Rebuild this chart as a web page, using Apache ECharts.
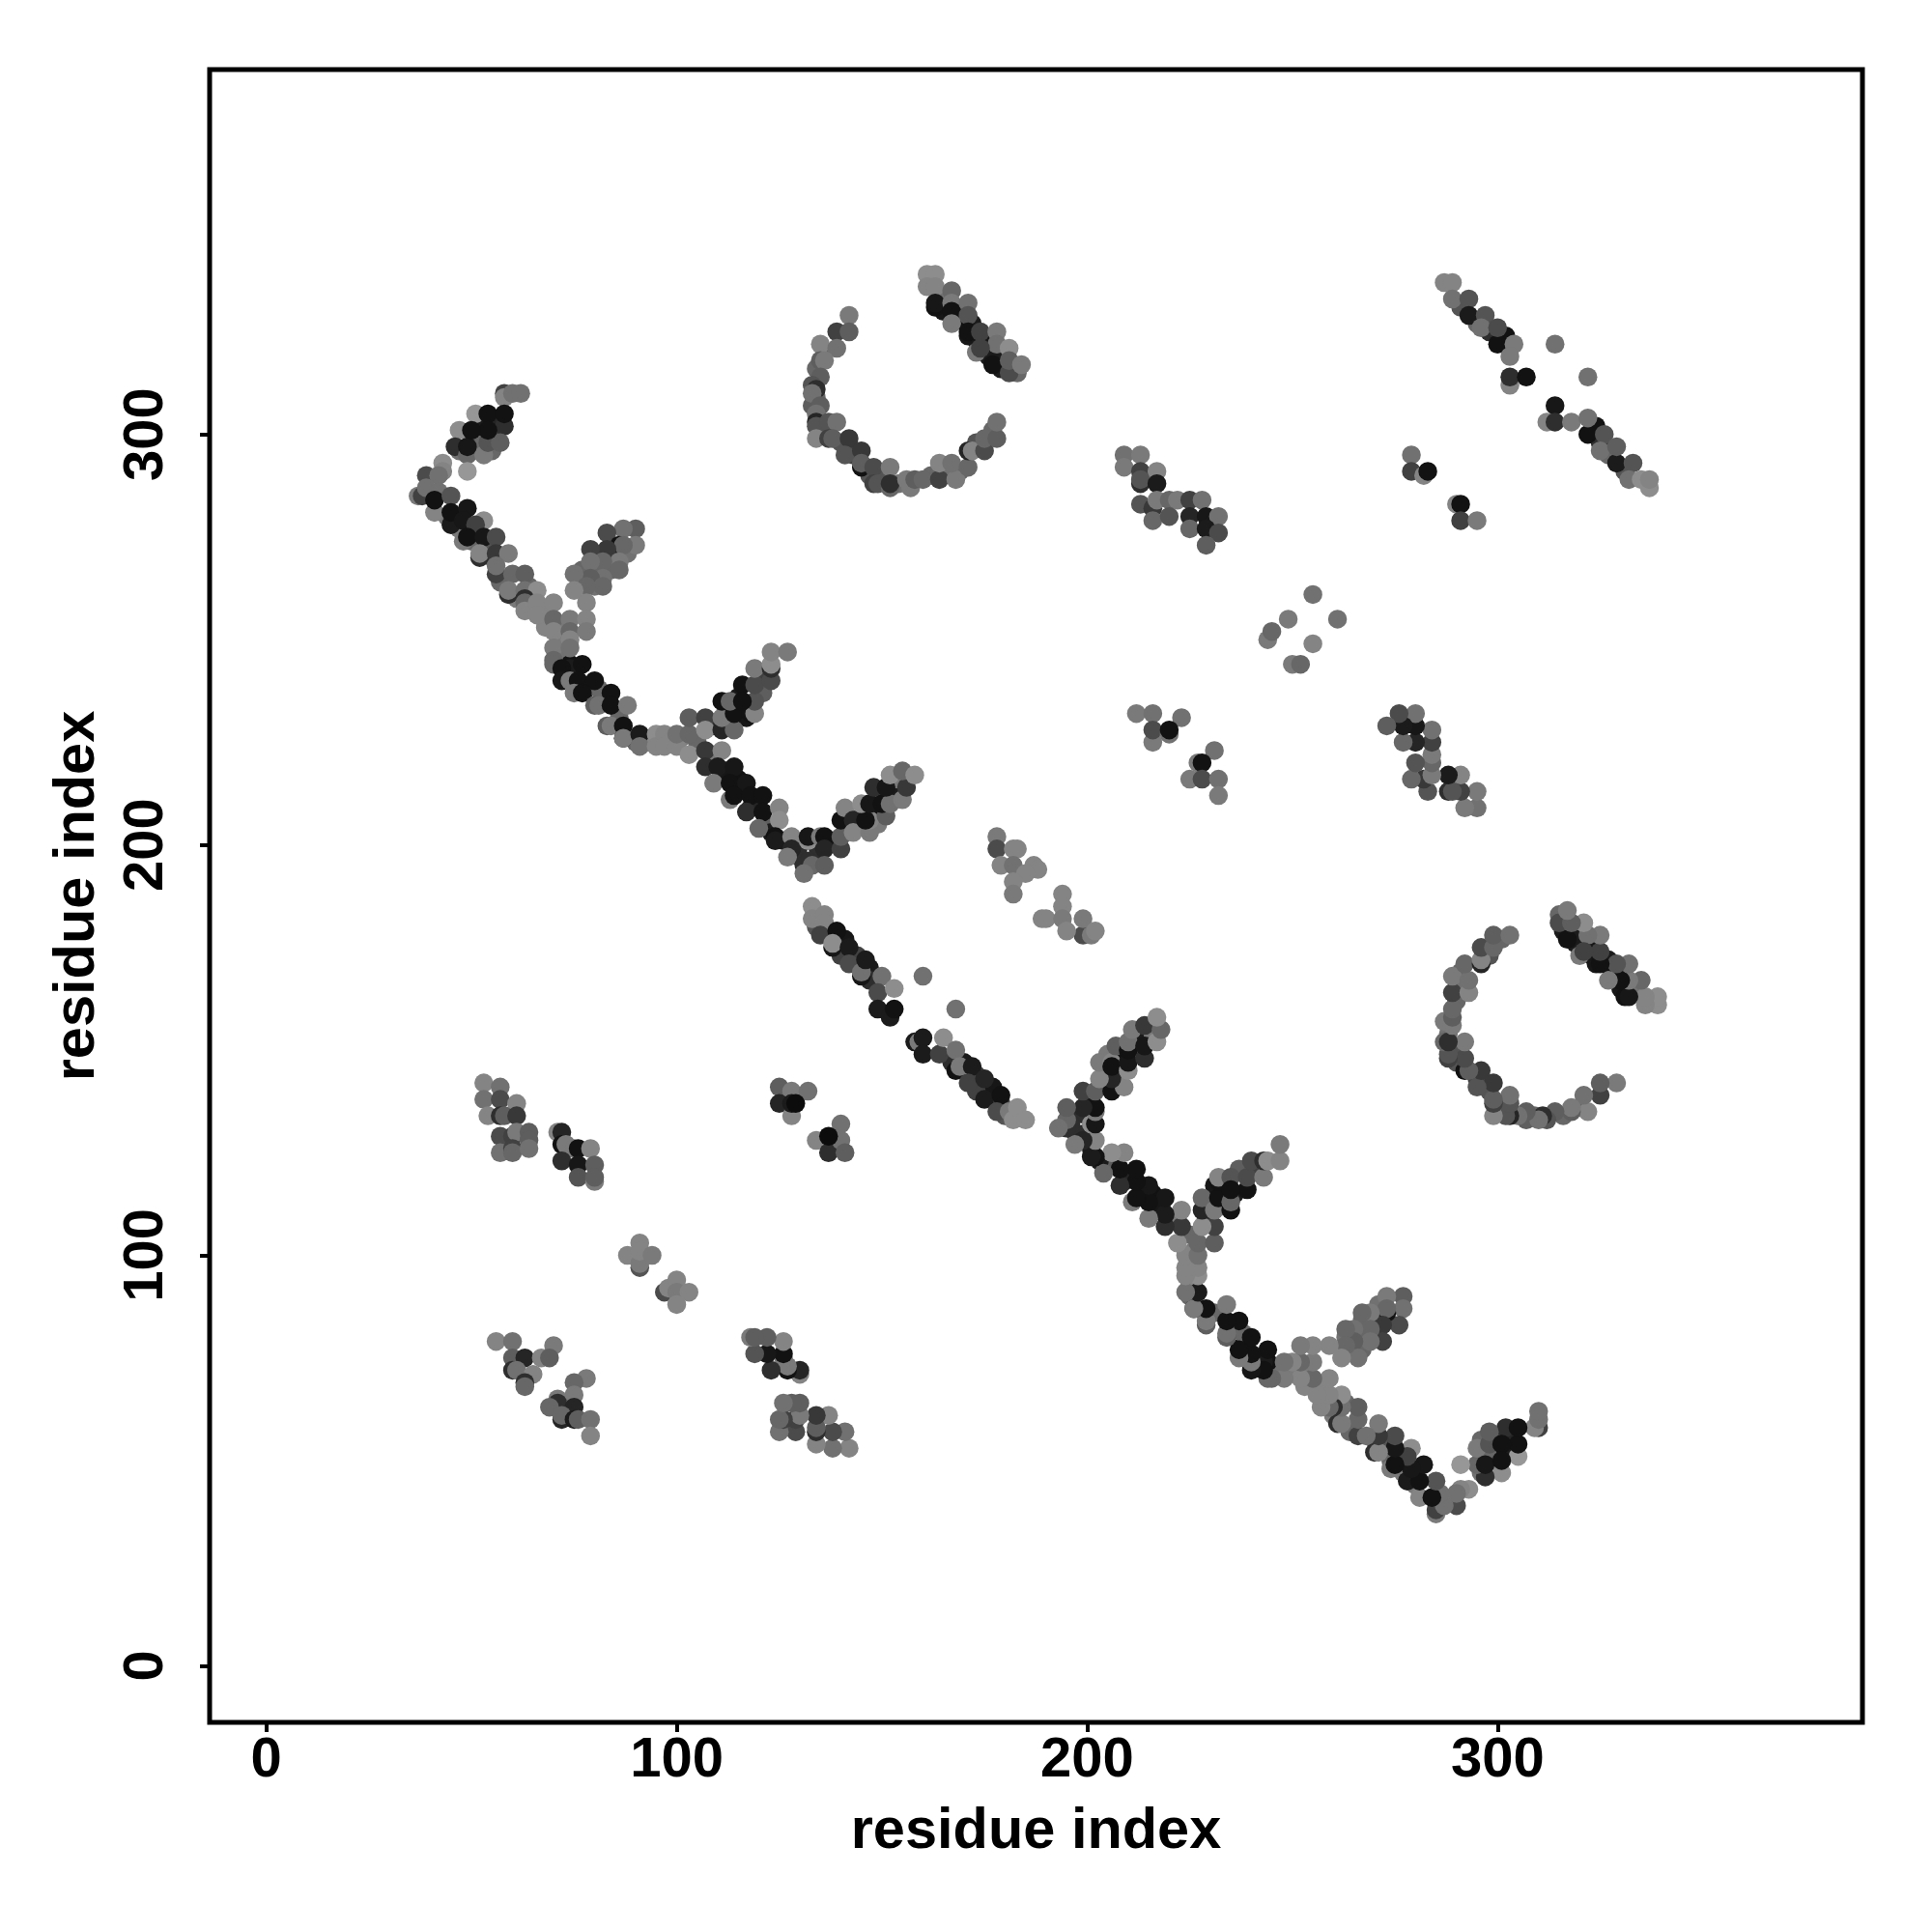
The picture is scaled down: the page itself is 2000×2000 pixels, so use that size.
<!DOCTYPE html>
<html><head><meta charset="utf-8">
<style>html,body{margin:0;background:#fff}#c{width:2000px;height:2000px}</style>
<script src="https://cdn.jsdelivr.net/npm/echarts@6/dist/echarts.min.js"></script>
</head><body><div id="c"></div>
<script>
// contacts: [residue i, residue j, shade 0(black)..0.7(grey)]
// Less visible contacts, mostly covered by the ones drawn after them
const underOne=[[52,299,.5],[47,296,.55],[55,296,.5],[52,296,.4],[56,300,.3],[56,303,.15],[52,302,.1],[44,280,.6],[47,277,.6],[50,274,.5],[54,273,.4],[55,270,.5],[57,264,.5],[61,260,.6],[64,263,.5],[68,257,.65],[72,250,.6],[71,247,.5],[73,246,.55],[72,253,.6],[68,253,.65],[65,258,.6],[84,270,.55],[81,267,.5],[77,267,.5],[80,263,.55],[88,271,.55],[84,267,.5],[80,270,.5],[74,244,.05],[74,243,.1],[78,238,.05],[82,237,.08],[81,238,.5],[86,231,.5],[90,225,.5],[92,226,.1],[98,226,.65],[101,226,.6],[105,225,.5],[93,225,.65],[109,229,.2],[112,233,.5],[115,236,.1],[117,233,.05],[121,237,.45],[121,241,.3],[117,231,.08],[109,222,.6],[112,218,.08],[115,216,.05],[115,213,.05],[119,210,.1],[118,209,.15],[122,205,.45],[123,203,.1],[126,201,.1],[130,200,.1],[134,200,.15],[138,201,.08],[130,197,.2],[134,197,.2],[132,196,.2],[142,204,.5],[145,207,.4],[149,208,.05],[149,205,.6],[153,212,.1],[153,215,.1],[150,212,.4],[154,216,.6],[136,320,.5],[134,316,.5],[134,309,.5],[133,307,.45],[135,301,.4],[140,298,.4],[143,295,.3],[147,290,.4],[150,290,.4],[154,288,.55],[162,290,.5],[166,291,.55],[169,291,.5],[173,298,.4],[177,301,.5],[165,334,.55],[165,330,.08],[169,328,.05],[169,330,.1],[172,327,.1],[173,323,.05],[176,322,.08],[176,319,.1],[179,316,.1],[179,319,.1],[183,315,.5]];
const underTwo=[[134,180,.4],[137,179,.3],[141,177,.08],[140,173,.3],[144,173,.3],[147,170,.1],[147,167,.2],[180,134,.4],[179,137,.3],[177,141,.08],[173,140,.3],[173,144,.3],[170,147,.1],[167,147,.2],[291,331,.4],[295,327,.5],[298,325,.2],[302,324,.05],[331,291,.4],[327,295,.5],[325,298,.2],[324,302,.05]];
// Clusters whose partner appears across the i=j line
const armTop=[[58,310,.3],[58,309,.65],[60,310,.55],[62,310,.55],[51,305,.75],[58,302,.2],[47,301,.7],[46,297,.2],[50,297,.5],[49,295,.5],[53,295,.6],[49,291,.75],[54,298,.4],[57,298,.45],[49,297,.08],[54,305,.05],[58,305,.05],[54,301,.05],[50,301,.05]];
const strandA=[[43,293,.7],[43,291,.65],[39,290,.35],[42,290,.55],[37,285,.6],[38,285,.3],[39,287,.55],[42,286,.55],[41,281,.65],[41,284,.05],[45,285,.4],[45,278,.1],[45,281,.05],[49,282,.08],[48,279,.08],[53,279,.7],[51,278,.3],[48,274,.6],[49,275,.05],[53,275,.08],[56,275,.35],[52,270,.2],[52,271,.65],[56,271,.25],[59,271,.6],[56,266,.3],[56,268,.55],[60,266,.5],[63,266,.45],[59,261,.2],[59,262,.6],[63,262,.55],[66,262,.7],[63,260,.2],[63,259,.5],[63,257,.65],[66,259,.65],[70,259,.65],[66,256,.65],[70,255,.5],[70,252,.65],[74,255,.6],[74,252,.5],[74,250,.65],[70,248,.6],[74,248,.55],[70,245,.5],[70,244,.5]];
const armC=[[90,277,.45],[87,277,.55],[90,273,.6],[83,276,.35],[86,273,.05],[87,273,.5],[83,272,.25],[79,272,.3],[86,269,.6],[86,267,.5],[82,269,.5],[82,265,.55],[79,269,.55],[79,265,.45],[75,266,.55],[82,263,.5],[78,263,.5],[75,262,.65],[78,259,.65],[78,255,.65],[78,252,.6]];
const strandB=[[72,243,.05],[77,244,.05],[72,240,.08],[74,240,.6],[76,240,.05],[80,240,.05],[75,237,.6],[77,237,.05],[84,237,.05],[80,234,.45],[81,234,.55],[84,234,.05],[88,234,.6],[83,229,.45],[84,229,.6],[87,229,.05],[87,226,.08],[87,226,.6],[91,227,.1],[91,224,.55],[95,227,.7],[95,224,.65],[97,227,.65],[97,224,.65],[100,224,.65],[100,227,.55],[103,227,.5],[103,222,.7],[103,231,.45]];
const armD=[[107,231,.3],[107,228,.7],[111,228,.15],[114,228,.5],[111,231,.6],[111,235,.05],[114,232,.05],[113,235,.5],[118,232,.05],[119,232,.65],[119,235,.4],[116,239,.05],[116,235,.05],[119,239,.35],[119,243,.6],[123,240,.35],[123,243,.2],[123,244,.7],[123,247,.65],[127,247,.6]];
const strandC=[[107,223,.25],[111,223,.65],[107,219,.2],[110,219,.1],[114,219,.08],[109,215,.6],[113,215,.05],[117,215,.08],[113,211,.6],[114,212,.05],[118,212,.05],[121,212,.05],[117,208,.2],[121,208,.05],[125,209,.65],[125,206,.7],[120,204,.5],[124,202,.05],[124,201,.1],[128,202,.65],[128,199,.15],[127,197,.6],[131,195,.2],[133,195,.5],[131,193,.55],[132,201,.7],[132,202,.08],[135,202,.6],[136,202,.05],[136,199,.15],[140,199,.3],[140,202,.45],[136,195,.45]];
const armE=[[140,206,.05],[141,209,.65],[143,206,.15],[143,203,.65],[147,203,.6],[147,206,.65],[146,206,.05],[145,210,.7],[147,210,.08],[151,207,.45],[150,210,.05],[152,210,.55],[148,214,.2],[151,214,.08],[155,211,.6],[156,214,.25],[152,217,.7],[155,218,.5],[158,217,.7]];
const ringArc=[[142,329,.6],[139,325,.3],[142,325,.45],[135,322,.65],[139,321,.55],[135,318,.45],[136,318,.6],[135,314,.45],[133,312,.4],[134,311,.2],[133,310,.55],[135,307,.45],[134,305,.55],[134,303,.15],[134,302,.4],[134,299,.65],[137,303,.4],[139,303,.55],[137,299,.3],[138,299,.45],[142,299,.25],[141,295,.4],[145,296,.25],[145,292,.05],[145,293,.45],[148,292,.35],[152,292,.6],[148,288,.3],[149,288,.4],[152,287,.5],[152,288,.2],[156,289,.6],[157,287,.6],[158,289,.45],[160,289,.5],[164,289,.3],[164,293,.65],[168,289,.6],[167,293,.55],[171,292,.5],[171,296,.15],[172,296,.65],[175,296,.35],[175,299,.5],[178,299,.45],[178,303,.55]];
const ringStrand=[[161,339,.7],[163,339,.7],[161,336,.65],[163,336,.65],[163,331,.05],[163,332,.08],[167,335,.5],[167,332,.6],[167,330,.05],[171,332,.55],[171,329,.4],[167,327,.6],[171,324,.08],[171,325,.05],[174,325,.3],[178,325,.6],[178,322,.55],[173,320,.6],[174,321,.3],[181,321,.7],[177,317,.05],[181,315,.35],[181,318,.45],[184,317,.6]];
const blockF=[[209,295,.55],[213,295,.6],[209,292,.6],[213,291,.3],[217,291,.65],[213,288,.2],[213,289,.4],[217,288,.1],[213,283,.4],[216,282,.25],[217,284,.6],[220,284,.5],[222,284,.6],[225,284,.3],[228,284,.55],[216,279,.5],[220,280,.4],[225,280,.15],[225,277,.5],[229,280,.08],[232,280,.55],[229,277,.1],[232,276,.35],[229,273,.45]];
const blockN=[[53,142,.65],[57,141,.55],[53,138,.55],[57,138,.35],[61,137,.65],[54,134,.65],[57,134,.2],[58,134,.45],[61,134,.25],[57,129,.35],[60,129,.3],[61,130,.6],[64,130,.45],[64,128,.45],[57,125,.55],[60,126,.3],[60,125,.5],[64,126,.55],[71,130,.65],[72,130,.15],[72,127,.05],[73,127,.6],[75,126,.6],[76,126,.05],[79,126,.65],[72,123,.2],[76,122,.08],[80,122,.45],[76,119,.4],[80,118,.6],[80,119,.45]];
// Clusters that already hold both sides of the i=j line
const strandMid=[[133,185,.7],[133,182,.65],[136,183,.65],[136,181,.65],[135,178,.3],[139,179,.05],[138,175,.08],[138,176,.7],[142,175,.1],[142,171,.35],[145,168,.08],[145,169,.55],[146,172,.1],[150,168,.55],[149,164,.35],[153,165,.7],[149,160,.1],[152,158,.1],[153,160,.05],[160,168,.55],[168,160,.55],[158,152,.1],[159,152,.6],[160,153,.1],[160,149,.1],[164,149,.3],[165,153,.7],[168,150,.55],[168,145,.05],[169,146,.6],[172,146,.1],[171,142,.3],[175,143,.15],[175,138,.1],[179,139,.05],[178,135,.35],[181,135,.6],[182,133,.7],[183,136,.7],[185,133,.7]];
const strandFar=[[287,337,.65],[289,337,.65],[289,333,.55],[293,333,.4],[293,329,.1],[297,329,.4],[296,326,.55],[300,322,.05],[300,326,.35],[304,322,.6],[303,319,.6],[303,312,.65],[303,314,.2],[307,314,.05],[314,322,.55],[322,314,.55],[314,307,.08],[312,303,.65],[314,303,.2],[318,303,.6],[322,300,.05],[322,304,.55],[326,300,.4],[325,296,.55],[329,293,.1],[329,297,.45],[333,293,.4],[332,289,.55],[335,289,.7],[337,287,.7],[337,289,.65]];
const pairH=[[279,295,.55],[279,291,.3],[282,290,.65],[283,291,.05],[290,283,.65],[291,283,.05],[291,279,.3],[295,279,.6]];
const diamond=[[255,261,.55],[249,255,.6],[261,255,.55],[244,250,.6],[245,252,.5],[255,249,.65],[250,244,.6],[252,244,.5]];
const blockJ=[[212,232,.6],[216,232,.55],[223,231,.55],[216,225,.6],[216,228,.35],[220,227,.55],[220,228,.05],[231,223,.55],[227,220,.6],[228,220,.05],[225,216,.6],[228,216,.35],[232,216,.55],[232,212,.6]];
const blockK=[[178,202,.6],[178,199,.35],[182,199,.65],[183,199,.65],[179,195,.65],[182,195,.55],[187,195,.65],[188,194,.65],[185,193,.65],[182,191,.65],[182,188,.6],[194,188,.65],[194,185,.65],[189,182,.65],[190,182,.65],[194,182,.6],[199,178,.35],[199,182,.6],[195,179,.65],[201,178,.6],[202,179,.65]];
const blockM=[[125,141,.45],[128,140,.6],[132,140,.55],[125,137,.15],[128,134,.65],[128,137,.1],[129,137,.02],[140,132,.55],[134,128,.65],[137,125,.2],[140,128,.55],[137,129,.02],[141,125,.45]];
const blockP=[[91,103,.65],[88,100,.65],[91,97,.4],[91,98,.6],[91,101,.65],[94,100,.6],[97,91,.35],[98,92,.65],[100,94,.65],[100,91,.6],[103,91,.65],[100,88,.65]];
const blockQ=[[56,79,.65],[60,79,.55],[70,78,.6],[60,75,.45],[63,75,.15],[67,75,.65],[69,75,.45],[60,72,.2],[61,72,.55],[65,71,.65],[63,69,.2],[63,68,.5],[78,70,.6],[75,69,.5],[75,66,.6],[71,65,.6],[71,64,.2],[69,63,.5],[75,63,.15],[72,60,.15],[72,61,.5],[75,60,.1],[76,60,.45],[79,60,.55],[79,56,.65]];

const tickValues=[0,100,200,300];
const axisTitle='residue index';

const oneSided=[underOne,armTop,strandA,armC,strandB,armD,strandC,armE,ringArc,ringStrand,blockF,blockN].flat();
const twoSided=[underTwo,strandMid,strandFar,pairH,diamond,blockJ,blockK,blockM,blockP,blockQ].flat();
const points=[...oneSided,...twoSided,...oneSided.map(p=>[p[1],p[0],p[2]])];

const font='"Liberation Sans", Arial, sans-serif';
const axisCommon=(rot,gap,labelMargin)=>({
  type:'value',min:-13.8,max:388.9,splitLine:{show:false},
  name:axisTitle,nameLocation:'middle',nameGap:gap,
  nameTextStyle:{fontFamily:font,fontWeight:'bold',fontSize:59.5,color:'#000'},
  axisLine:{show:false,onZero:false},
  axisTick:{show:true,length:10,lineStyle:{color:'#000',width:4},customValues:tickValues},
  axisLabel:{show:true,rotate:rot,margin:labelMargin,fontFamily:font,fontWeight:'bold',fontSize:58,color:'#000',customValues:tickValues}
});
const chart=echarts.init(document.getElementById('c'),null,{renderer:'canvas'});
chart.setOption({
  animation:false,backgroundColor:'#fff',
  grid:{left:217,top:72,width:1711,height:1711,show:true,borderColor:'#000',borderWidth:5,backgroundColor:'transparent',containLabel:false},
  xAxis:axisCommon(0,84,11),
  yAxis:axisCommon(90,106,36),
  series:[{type:'scatter',data:points,symbol:'circle',symbolSize:19.5,silent:true,
    itemStyle:{opacity:1,color:p=>{const g=Math.round(8+p.value[2]*190);return `rgb(${g},${g},${g})`;}}}]
});
</script></body></html>
